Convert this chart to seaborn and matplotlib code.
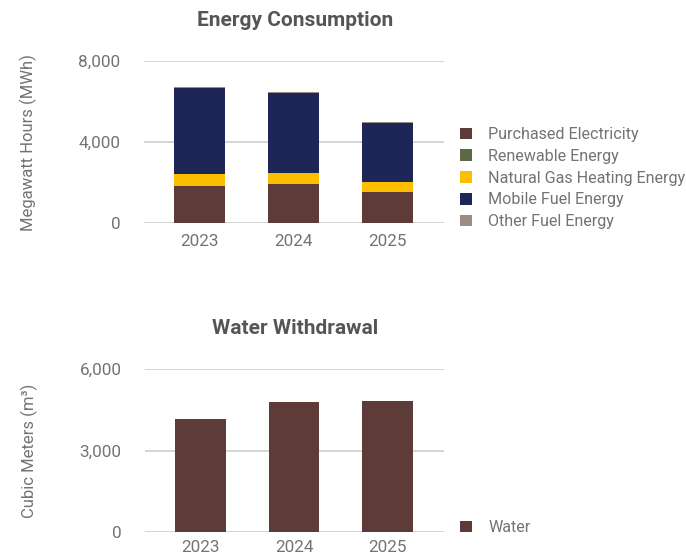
import matplotlib
matplotlib.use("Agg")
import matplotlib.pyplot as plt
import seaborn as sns
import numpy as np
import pandas as pd
from matplotlib.patches import Patch

sns.set_theme(style="white")
plt.rcParams['font.family'] = ['Roboto', 'DejaVu Sans']

years = ["2023", "2024", "2025"]
energy_series = ["Purchased Electricity", "Renewable Energy", "Natural Gas Heating Energy",
                 "Mobile Fuel Energy", "Other Fuel Energy"]
purchased = [1840, 1940, 1550]
renewable = [0, 0, 0]
natural_gas = [595, 545, 490]
mobile_fuel = [4245, 3950, 2910]
other_fuel = [50, 50, 50]
energy_colors = ["#5C3B38", "#5B6A45", "#FDBE00", "#1E2657", "#9B8D83"]

water = [4160, 4790, 4830]
water_color = "#5C3B38"

energy_ticks = [0, 4000, 8000]
water_ticks = [0, 3000, 6000]

TXT = "#737373"
GRID = "#C9C9C9"
FS = 12.3

W, H = 686, 554
fig = plt.figure(figsize=(W / 100, H / 100), dpi=100)

def px_axes(left, top, right, bottom):
    return fig.add_axes([left / W, (H - bottom) / H, (right - left) / W, (bottom - top) / H])

def style(ax, ticks, ylabel, xpad):
    ax.set_ylim(ticks[0], ticks[-1])
    ax.set_yticks(ticks)
    ax.set_yticklabels([f"{t:,}" for t in ticks])
    ax.set_xlim(-0.59, 2.60)
    for s in ax.spines.values():
        s.set_visible(False)
    ax.grid(False)
    for t in ticks:
        ax.axhline(t, color=GRID, lw=1.1, zorder=0)
    ax.tick_params(axis="both", length=0, labelsize=FS, colors=TXT)
    ax.tick_params(axis="y", pad=17)
    ax.tick_params(axis="x", pad=xpad)
    ax.set_xlabel("")
    ax.set_ylabel(ylabel, fontsize=12, color=TXT)
    ax.yaxis.set_label_coords(-0.357, 0.5)

# Energy stacked bars
ax1 = px_axes(144, 61, 444, 223.3)
layers = [purchased, renewable, natural_gas, mobile_fuel, other_fuel]
cum = np.cumsum(np.array(layers, dtype=float), axis=0)
for i in range(len(layers) - 1, -1, -1):
    df = pd.DataFrame({"year": years, "value": cum[i]})
    sns.barplot(data=df, x="year", y="value", color=energy_colors[i], width=0.543,
                saturation=1, ax=ax1, zorder=2, linewidth=0, edgecolor="none")
style(ax1, energy_ticks, "Megawatt Hours (MWh)", 7.5)

leg_kw = dict(loc="upper left", frameon=False, labelcolor=TXT,
              handlelength=0.74, handleheight=0.74, handletextpad=1.0,
              borderpad=0, borderaxespad=0, prop={"size": 11.6})
handles = [Patch(facecolor=c, edgecolor="none") for c in energy_colors]
fig.legend(handles, energy_series, bbox_to_anchor=(460 / W, 1 - 127 / H),
           labelspacing=0.42, **leg_kw)

fig.text(295 / W, 1 - 21 / H, "Energy Consumption", ha="center", va="center",
         fontsize=15, fontweight="bold", color="#555555")

# Water bars
ax2 = px_axes(145, 369.3, 444, 531.7)
dfw = pd.DataFrame({"year": years, "value": water})
sns.barplot(data=dfw, x="year", y="value", color=water_color, width=0.543,
            saturation=1, ax=ax2, zorder=2, linewidth=0, edgecolor="none")
style(ax2, water_ticks, "Cubic Meters (m³)", 6)
fig.legend([Patch(facecolor=water_color, edgecolor="none")], ["Water"],
           bbox_to_anchor=(460 / W, 1 - 520 / H), **leg_kw)

fig.text(295 / W, 1 - 328 / H, "Water Withdrawal", ha="center", va="center",
         fontsize=15, fontweight="bold", color="#555555")

fig.savefig("out.png", dpi=100, facecolor="white")
